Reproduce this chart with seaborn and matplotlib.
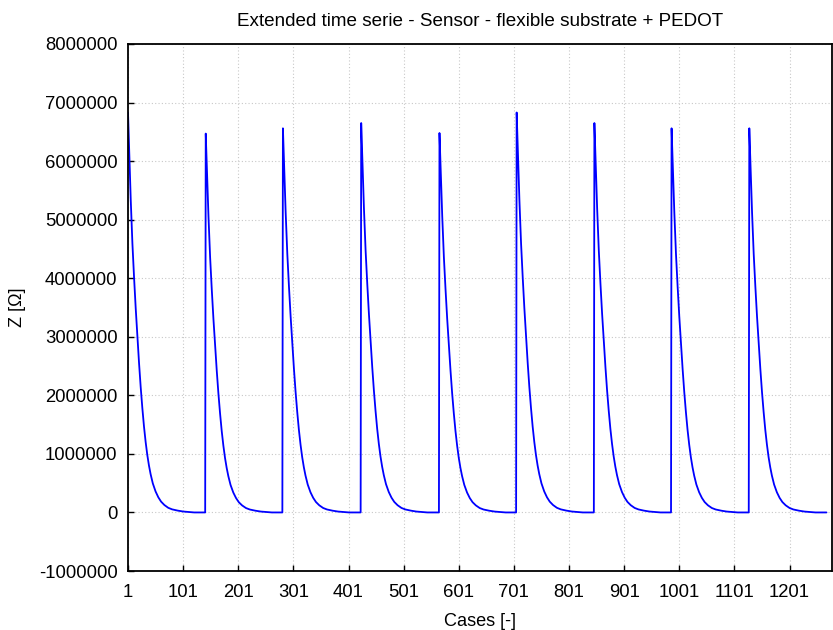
import numpy as np
import pandas as pd
import matplotlib
matplotlib.use("Agg")
import matplotlib.pyplot as plt
import seaborn as sns

# ---- data ----
pulse_starts = [1, 142, 282, 424, 566, 706, 847, 987, 1128]
pulse_peaks = [6830000, 6470000, 6560000, 6650000, 6480000, 6830000, 6650000, 6560000, 6560000]
decay_offsets = [0, 1, 2, 3, 5, 8, 11, 14, 17, 20, 23, 26, 29, 32, 35, 38, 41, 45,
                 50, 55, 60, 66, 73, 80, 90, 100, 110, 120]
decay_values = [6470000, 6200000, 5900000, 5600000, 5050000, 4350000, 3800000, 3300000,
                2850000, 2420000, 2030000, 1690000, 1390000, 1140000, 930000, 760000,
                620000, 470000, 340000, 245000, 175000, 120000, 75000, 50000,
                30000, 15000, 8000, 0]
last_case = 1268
x_ticks = [1, 101, 201, 301, 401, 501, 601, 701, 801, 901, 1001, 1101, 1201]
y_ticks = [-1000000, 0, 1000000, 2000000, 3000000, 4000000, 5000000, 6000000, 7000000, 8000000]

# ---- assemble the series ----
xs, ys = [], []
ends = pulse_starts[1:] + [last_case + 1]
for start, peak, end in zip(pulse_starts, pulse_peaks, ends):
    ratio = peak / decay_values[0]
    for off, val in zip(decay_offsets, decay_values):
        if start + off < end:
            xs.append(start + off)
            ys.append(val * ratio)
    xs.append(end - 1)
    ys.append(0.0)
df = pd.DataFrame({"Cases": xs, "Z": ys})

# ---- plot ----
sns.set_theme(style="white")
plt.rcParams["font.family"] = ["Liberation Sans", "DejaVu Sans"]
plt.rcParams["text.color"] = "black"
plt.rcParams["axes.labelcolor"] = "black"

fig = plt.figure(figsize=(8.33, 6.3), dpi=100)
ax = fig.add_axes([128 / 833, 1 - 571 / 630, (832 - 128) / 833, (571 - 44) / 630])

sns.lineplot(data=df, x="Cases", y="Z", ax=ax, color="#0000ff", linewidth=1.3,
             estimator=None, sort=False)

ax.set_xlim(1, 1278)
ax.set_ylim(-1000000, 8000000)
ax.set_xticks(x_ticks)
ax.set_xticklabels([str(t) for t in x_ticks])
ax.set_yticks(y_ticks)
ax.set_yticklabels([str(t) for t in y_ticks])

ax.grid(True, linestyle=(0, (1, 2)), color="#c8c8c8", linewidth=0.8)
ax.set_axisbelow(True)
for s in ax.spines.values():
    s.set_color("black")
    s.set_linewidth(1.3)

ax.tick_params(axis="both", direction="in", length=4, width=1, colors="black",
               labelsize=13.3)
ax.tick_params(axis="x", pad=9.5)
ax.tick_params(axis="y", pad=7.5)
ax.tick_params(left=True, bottom=True)

ax.set_title("Extended time serie - Sensor - flexible substrate + PEDOT", fontsize=13.6,
             pad=13, color="black")
ax.set_xlabel("Cases [-]", fontsize=13.1, labelpad=8.5)
ax.set_ylabel("Z [\u03a9]", fontsize=13, labelpad=9)

fig.savefig("out.png", dpi=100)
